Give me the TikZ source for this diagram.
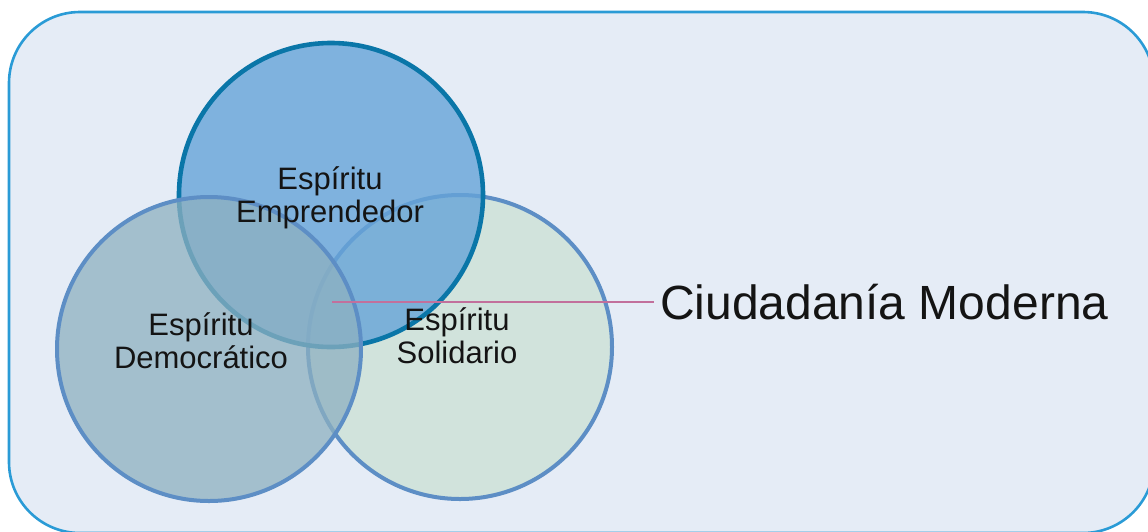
\documentclass[tikz,border=0pt]{standalone}
\usepackage{fontspec}
\setmainfont{Liberation Sans}
\definecolor{panelfill}{HTML}{E5ECF6}
\definecolor{panelline}{HTML}{2A9BD6}
\definecolor{empfill}{RGB}{102,164,216}
\definecolor{empline}{HTML}{0A76A8}
\definecolor{demfill}{RGB}{141,176,192}
\definecolor{solfill}{HTML}{D1E3DC}
\definecolor{ringline}{HTML}{5D8EC5}
\definecolor{linkline}{HTML}{C2709C}
\tikzset{
	venn/.style={
		circle,
		minimum size=304pt,
		line width=4pt,
		draw=ringline},
	lbl/.style={
		align=center,
		inner sep=0pt,
		text=black!92,
		font=\fontsize{31}{33}\selectfont},
	link/.style={
		draw=linkline,
		line width=2.4pt}
}
\begin{document}
\begin{tikzpicture}[x=1pt, y=-1pt]
	\useasboundingbox (0,0) rectangle (1148,531);
	\draw[panelline, fill=panelfill, line width=2.6pt, rounded corners=71pt] (9,12) rectangle (1154,533);
	% the three rings, back to front
	\node[venn, fill=solfill] (sol) at (460,347) {};
	\node[venn, fill=empfill, fill opacity=0.8, draw=empline, line width=4.6pt] (emp) at (331,195) {};
	\node[venn, fill=demfill, fill opacity=0.75] (dem) at (209,349) {};
	\node[lbl] (emptext) at (330,198) {Espíritu\\Emprendedor};
	\node[lbl] (demtext) at (201,341) {Espíritu\\Democrático};
	\node[lbl] (soltext) at (457,336) {Espíritu\\Solidario};
	% label on the right
	\node[anchor=west, inner sep=6pt, text=black!92, font=\fontsize{48}{52}\selectfont] (ciud) at (654,302) {Ciudadanía Moderna};
	\coordinate (linkstart) at (332,302);
	\draw[link] (linkstart) -- (ciud.west);
\end{tikzpicture}
\end{document}
